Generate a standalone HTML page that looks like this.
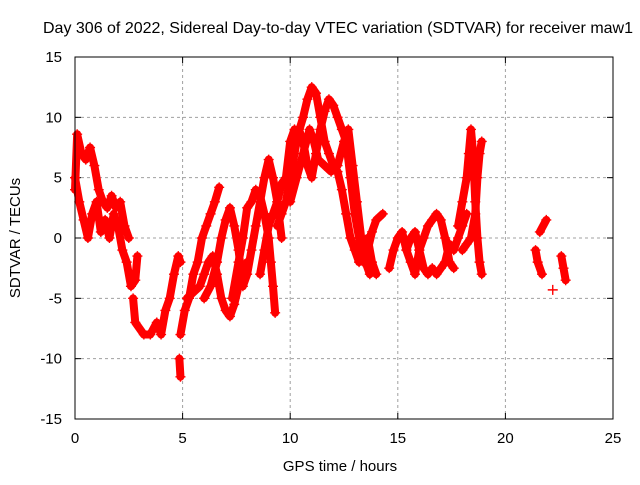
<!DOCTYPE html>
<html><head><meta charset="utf-8"><style>
body{margin:0;background:#fff}
text{font-family:"Liberation Sans",sans-serif;font-size:15px;fill:#000}
</style></head><body>
<svg width="640" height="480" xmlns="http://www.w3.org/2000/svg">
<text x="338" y="33" text-anchor="middle" style="font-size:16px" textLength="590">Day 306 of 2022, Sidereal Day-to-day VTEC variation (SDTVAR) for receiver maw1</text>
<g id="grid"></g>
<g id="ticks"></g>
<g id="series"></g>
<rect x="75" y="57" width="538" height="362" fill="none" stroke="#000" stroke-width="1"/>
<text x="340" y="471" text-anchor="middle">GPS time / hours</text>
<text transform="translate(20,238) rotate(-90)" text-anchor="middle">SDTVAR / TECUs</text>
</svg>
<script>
const xTicks=[0,5,10,15,20,25];
const yTicks=[-15,-10,-5,0,5,10,15];
const tracks=[
[[0,4],[0.1,8.6],[0.3,7],[0.5,6.5],[0.7,7.5],[0.9,6],[1.1,4],[1.3,3],[1.5,2.5],[1.7,3.5],[1.9,2.5],[2.1,3],[2.3,1],[2.5,0]],
[[0,5],[0.2,3],[0.4,1.5],[0.6,0],[0.8,2],[1.0,3],[1.2,0.5],[1.4,1.5],[1.6,0],[1.8,2],[2.0,1],[2.2,-1],[2.4,-2],[2.6,-4],[2.8,-3.5],[2.9,-1.5]],
[[2.7,-5],[2.8,-7],[3.2,-8],[3.5,-8],[3.8,-7],[4.0,-8],[4.2,-6],[4.4,-5],[4.6,-3],[4.8,-1.5],[4.9,-2]],
[[4.85,-10],[4.9,-11.5]],
[[4.9,-8],[5.1,-6],[5.3,-5],[5.5,-3],[5.7,-2],[5.9,0],[6.1,1],[6.3,2],[6.5,3],[6.7,4.2]],
[[5.2,-5],[5.5,-4.5],[5.8,-4],[6.0,-3],[6.2,-2],[6.4,-1.5],[6.6,-3],[6.8,-5],[7.0,-6],[7.2,-6.5],[7.4,-5.5],[7.6,-4],[7.8,-3],[8.0,-2]],
[[6.0,-5],[6.3,-4],[6.6,-2],[6.8,0],[7.0,1.5],[7.2,2.5],[7.4,1],[7.6,-1],[7.8,-4],[8.0,-3],[8.2,-1],[8.4,1],[8.6,3],[8.8,5],[9.0,6.5],[9.2,5],[9.4,3],[9.6,0]],
[[7.3,-5],[7.6,-2],[7.8,0],[8.0,2.5],[8.2,3],[8.4,4],[8.6,3.5],[8.8,2],[9.0,0],[9.1,-2],[9.2,-4],[9.3,-6.2]],
[[8.6,-3],[8.8,-1],[9.0,1],[9.2,2],[9.4,3],[9.6,4.5],[9.8,5],[10.0,8],[10.2,9],[10.4,8.8],[10.6,10],[10.8,11.5],[11.0,12.5],[11.2,12],[11.4,10],[11.6,8],[11.8,7],[12.0,6],[12.2,5.5],[12.4,4],[12.6,2],[12.8,0],[13.0,-1],[13.2,-2],[13.4,-1],[13.6,0],[13.8,-2],[14.0,-3]],
[[9.4,1],[9.6,2],[9.8,3],[10.0,5],[10.2,7],[10.4,9],[10.6,8],[10.8,6],[11.0,5],[11.2,7],[11.4,9],[11.6,10.5],[11.8,11.5],[12.0,11],[12.2,10],[12.4,9],[12.6,8],[12.8,5],[13.0,2],[13.2,0],[13.4,-2],[13.6,-1],[13.8,0.5],[14.0,1.5],[14.3,2]],
[[10.0,3],[10.3,5],[10.6,7],[10.9,9],[11.1,8],[11.3,6.5],[11.6,6],[11.9,5.5],[12.2,6],[12.5,8],[12.7,9],[12.9,6],[13.1,3],[13.3,0],[13.5,-2],[13.7,-3]],
[[14.6,-2.5],[14.8,-1],[15.0,0],[15.2,0.5],[15.4,-1],[15.6,-2],[15.8,-3],[16.0,-1],[16.2,0],[16.4,1],[16.6,1.5],[16.8,2],[17.0,1.5],[17.2,0],[17.4,-2],[17.6,-2.5]],
[[15.4,-1],[15.6,0],[15.8,0.5],[16.0,-1],[16.2,-2.5],[16.4,-3],[16.6,-2.5],[16.8,-3],[17.0,-2.5],[17.2,-2],[17.4,-0.5],[17.6,-1],[17.8,0],[18.0,1],[18.2,2]],
[[17.8,1],[18.0,3],[18.2,5],[18.3,7],[18.4,9],[18.5,7],[18.6,3],[18.7,0],[18.8,-2],[18.9,-3]],
[[18.0,-1],[18.2,-0.5],[18.4,0],[18.6,2],[18.7,5],[18.8,7],[18.9,8]],
[[21.4,-1],[21.5,-2],[21.7,-3]],
[[21.6,0.5],[21.9,1.5]],
[[22.2,-4.3]],
[[22.6,-1.5],[22.7,-2.5],[22.8,-3.5]]
];
const NS="http://www.w3.org/2000/svg";
const X=t=>75+t*538/25, Y=v=>238-v*362/30;
const grid=document.getElementById('grid'),ticks=document.getElementById('ticks'),ser=document.getElementById('series');
function mk(tag,attrs,parent){const e=document.createElementNS(NS,tag);for(const k in attrs)e.setAttribute(k,attrs[k]);parent.appendChild(e);return e;}
xTicks.forEach(t=>{
 const x=X(t);
 if(t>0&&t<25){const g=mk('line',{x1:x,x2:x,y1:57,y2:419,stroke:'#a0a0a0','stroke-dasharray':'3,3'},grid);
 
 }
 mk('line',{x1:x,x2:x,y1:419,y2:413,stroke:'#000'},ticks);mk('line',{x1:x,x2:x,y1:57,y2:63,stroke:'#000'},ticks);
 const l=mk('text',{x:x,y:443,'text-anchor':'middle'},ticks);l.textContent=t;
 
 
});
yTicks.forEach(v=>{
 const y=Y(v);
 if(v>-15&&v<15){const g=mk('line',{x1:75,x2:613,y1:y,y2:y,stroke:'#a0a0a0','stroke-dasharray':'3,3'},grid);
 
 }
 mk('line',{x1:75,x2:81,y1:y,y2:y,stroke:'#000'},ticks);mk('line',{x1:613,x2:607,y1:y,y2:y,stroke:'#000'},ticks);
 const l=mk('text',{x:62,y:y+5,'text-anchor':'end'},ticks);l.textContent=v;
 
 
});
tracks.forEach(tr=>{
 if(tr.length>1){const p=mk('polyline',{points:tr.map(d=>X(d[0])+','+Y(d[1])).join(' '),fill:'none',stroke:'#ff0000','stroke-width':8,'stroke-linejoin':'round','stroke-linecap':'round'},ser);
 
 }
 tr.forEach(d=>{
  const x=X(d[0]),y=Y(d[1]);
  const m=mk('path',{d:`M${x-5},${y}h10M${x},${y-5}v10`,stroke:'#ff0000','stroke-width':1.4},ser);
  
  
 });
});
</script>
</body></html>
